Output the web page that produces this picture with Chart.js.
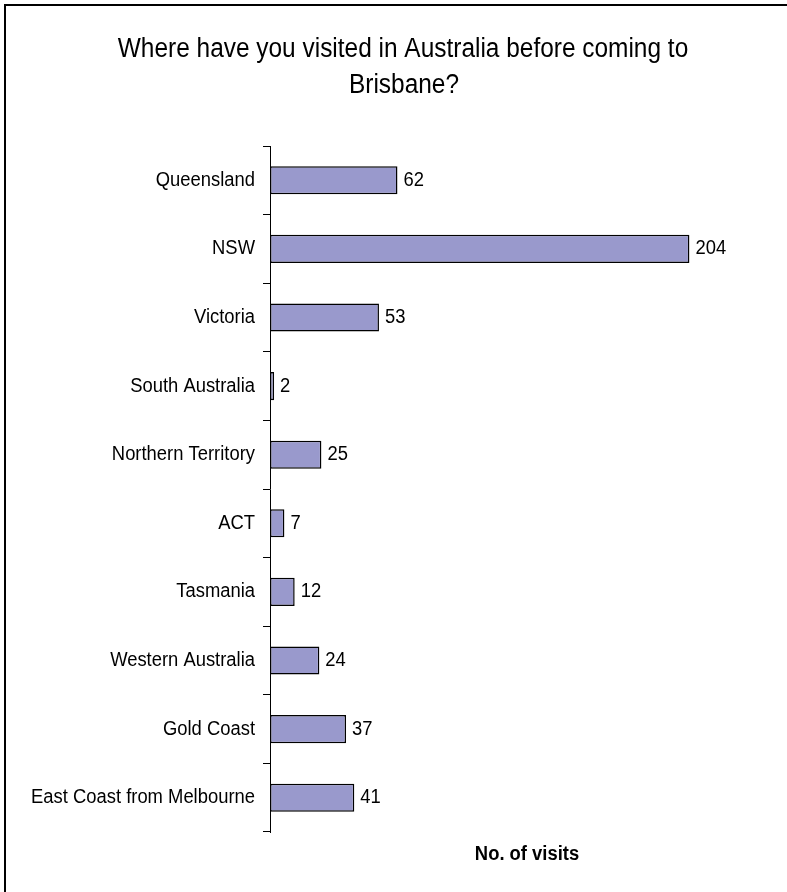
<!DOCTYPE html>
<html>
<head>
<meta charset="utf-8">
<script src="https://cdn.jsdelivr.net/npm/chart.js@4/dist/chart.umd.min.js"></script>
<style>
  html, body { margin: 0; padding: 0; background: #fff; }
  #wrap { position: absolute; left: 0; top: 0; width: 787px; height: 892px; overflow: hidden; }
  #frame { position: absolute; left: 4px; top: 4px; width: 800px; height: 900px;
           border-left: 2px solid #000; border-top: 2px solid #000; }
  canvas { position: absolute; left: 0; top: 0; }
</style>
</head>
<body>
<div id="wrap">
  <div id="frame"></div>
  <canvas id="chart" width="787" height="892"></canvas>
</div>
<script>
const places = ['Queensland', 'NSW', 'Victoria', 'South Australia', 'Northern Territory',
                'ACT', 'Tasmania', 'Western Australia', 'Gold Coast', 'East Coast from Melbourne'];
const visits = [62, 204, 53, 2, 25, 7, 12, 24, 37, 41];
const titleLines = ['Where have you visited in Australia before coming to', 'Brisbane?'];
const axisTitle = 'No. of visits';

const FONT = "'Liberation Sans', Arial, sans-serif";

// draw text squeezed horizontally to get a narrow face
function narrowText(ctx, text, x, y, font, squeeze, align, baseline) {
  ctx.save();
  ctx.font = font;
  ctx.fillStyle = '#000';
  ctx.textAlign = align;
  ctx.textBaseline = baseline;
  ctx.translate(x, y);
  ctx.scale(squeeze, 1);
  ctx.fillText(text, 0, 0);
  ctx.restore();
}

// title, category names, bar values and axis title
const narrowLabels = {
  id: 'narrowLabels',
  afterDraw(chart) {
    const ctx = chart.ctx;
    const a = chart.chartArea;
    const yScale = chart.scales.y;
    const meta = chart.getDatasetMeta(0);

    narrowText(ctx, titleLines[0], 403, 57, '27px ' + FONT, 0.905, 'center', 'alphabetic');
    narrowText(ctx, titleLines[1], 404, 93, '27px ' + FONT, 0.905, 'center', 'alphabetic');

    places.forEach((name, i) => {
      narrowText(ctx, name, a.left - 15, yScale.getPixelForValue(i), '20px ' + FONT, 0.92, 'right', 'middle');
    });

    meta.data.forEach((bar, i) => {
      narrowText(ctx, String(visits[i]), bar.x + 6, bar.y, '20px ' + FONT, 0.92, 'left', 'middle');
    });

    narrowText(ctx, axisTitle, 527, 854, 'bold 20px ' + FONT, 0.92, 'center', 'middle');
  }
};

new Chart(document.getElementById('chart'), {
  type: 'bar',
  data: {
    labels: places,
    datasets: [{
      data: visits,
      backgroundColor: '#9999CC',
      borderColor: '#000',
      borderWidth: 1.5,
      borderSkipped: false,
      categoryPercentage: 1,
      barPercentage: 0.41
    }]
  },
  options: {
    indexAxis: 'y',
    responsive: false,
    animation: false,
    layout: { padding: { left: 0, right: 3, top: 146, bottom: 60 } },
    plugins: {
      legend: { display: false },
      tooltip: { enabled: false },
      title: { display: false }
    },
    scales: {
      x: {
        display: false,
        min: 0,
        max: 250
      },
      y: {
        afterFit(scale) { scale.width = 270; },
        border: { display: true, color: '#000', width: 1 },
        grid: {
          offset: true,
          drawOnChartArea: false,
          drawTicks: true,
          tickLength: 7,
          color: '#000',
          lineWidth: 1
        },
        ticks: {
          color: 'rgba(0,0,0,0)',
          padding: 8,
          font: { family: FONT, size: 17 }
        }
      }
    }
  },
  plugins: [narrowLabels]
});
</script>
</body>
</html>
